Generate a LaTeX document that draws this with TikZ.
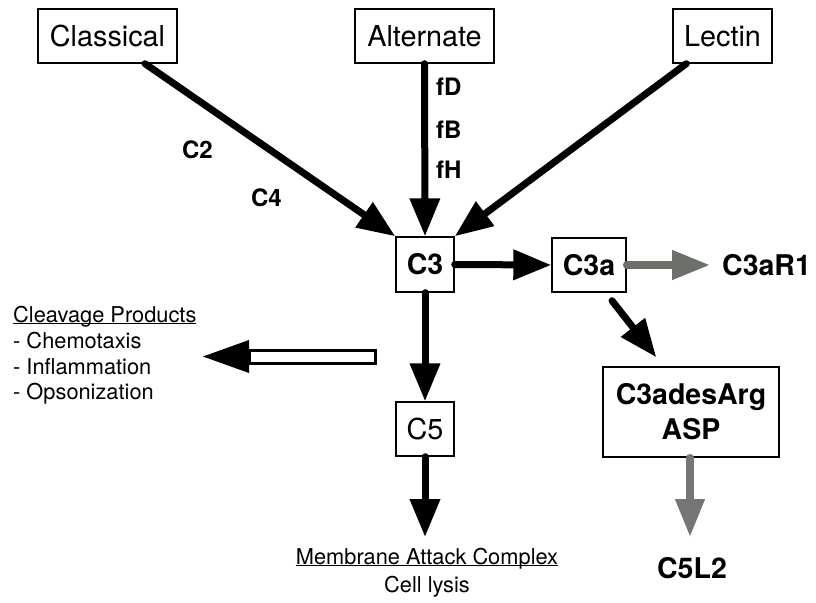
\documentclass[tikz,border=0pt]{standalone}
\usepackage{fontspec}
\setmainfont{TeX Gyre Heros}
\usetikzlibrary{arrows.meta,calc}
\definecolor{greengray}{HTML}{6B7068}
\definecolor{midgray}{HTML}{767676}
\newcommand\myul[1]{\leavevmode\setbox0\hbox{#1}\rlap{\rule[-2.4pt]{\wd0}{1.2pt}}\box0}
\begin{document}
\begin{tikzpicture}[x=1pt,y=-1pt,
  box/.style={draw, line width=1.4pt, inner sep=0pt, font=\fontsize{28.8}{34}\selectfont},
  bbox/.style={box, font=\fontsize{28.5}{35}\selectfont\bfseries},
  lab/.style={inner sep=0pt, font=\fontsize{24}{28}\selectfont\bfseries},
  small/.style={inner sep=0pt, font=\fontsize{21.8}{25.5}\selectfont},
  big/.style={inner sep=0pt, font=\fontsize{28.5}{34}\selectfont\bfseries},
  flow/.style={line width=7pt, line cap=round, -{Triangle[length=38pt,width=29pt]}},
  gflow/.style={line width=7.5pt, line cap=round, draw=#1, -{Triangle[length=38pt,width=28pt,color=#1]}},
]
\fill[white] (0,0) rectangle (816,602);
\useasboundingbox (0,0) rectangle (816,602);

% boxes
\node[box, minimum width=139pt, minimum height=54pt] (cl) at (107.5,36) {Classical};
\node[box, minimum width=139pt, minimum height=54pt] (alt) at (424.5,36) {Alternate};
\node[box, minimum width=99pt, minimum height=54pt] (lec) at (722.5,36) {Lectin};
\node[bbox, minimum width=58pt, minimum height=55pt] (c3) at (425,264.5) {C3};
\node[bbox, minimum width=74pt, minimum height=54pt] (c3a) at (589,265) {C3a};
\node[box, minimum width=58pt, minimum height=54pt] (c5) at (425,429) {C5};
\node[bbox, minimum width=176pt, minimum height=90pt, align=center] (asp) at (691,412) {C3adesArg\\ASP};

% free labels
\node[big, anchor=west] (r1) at (722,265) {C3aR1};
\node[big] (c5l2) at (692,568) {C5L2};
\node[lab] (c2) at (197.5,150) {C2};
\node[lab] (c4) at (266.5,198) {C4};
\node[lab, anchor=west] (fd) at (436,87) {fD};
\node[lab, anchor=west] (fb) at (436,130) {fB};
\node[lab, anchor=west] (fh) at (436,170) {fH};

\node[small, anchor=base] (mac) at (427,564) {\myul{Membrane Attack Complex}};
\node[small, anchor=base] (lysis) at (427,592) {Cell lysis};

\node[small, anchor=base west] (cp0) at (13,322) {\myul{Cleavage Products}};
\node[small, anchor=base west] (cp1) at (13,348) {- Chemotaxis};
\node[small, anchor=base west] (cp2) at (13,374) {- Inflammation};
\node[small, anchor=base west] (cp3) at (13,399.5) {- Opsonization};

% free ends
\coordinate (clst) at ($(cl.south)+(37.5,0)$);
\coordinate (lecst) at ($(lec.south west)+(14,0)$);
\coordinate (c5end) at (425,537);
\coordinate (c3ast) at ($(c3a.south)+(23,8)$);
\coordinate (aspend) at ($(asp.north west)+(54,-9)$);
\coordinate (r1end) at ($(r1.west)+(-12,0)$);
\coordinate (c5l2end) at (690,537);
\coordinate (holtip) at (203,356.5);
\coordinate (holend) at (375,357.5);

% connectors
\draw[flow] (clst) -- (c3.north west);
\draw[flow] (alt.south) -- (c3.north);
\draw[flow] (lecst) -- (c3.north east);
\draw[flow] (c3.east) -- (c3a.west);
\draw[flow] (c3.south) -- (c5.north);
\draw[flow] (c5.south) -- (c5end);
\draw[flow] (c3ast) -- (aspend);
\draw[gflow=greengray] (c3a.east) -- (r1end);
\draw[gflow=midgray] ($(asp.south)+(-1,0)$) -- (c5l2end);

% hollow arrow
\fill (holtip) -- ($(holtip)+(46,-16.5)$) -- ($(holtip)+(46,16.5)$) -- cycle;
\draw[line width=3pt, fill=white] ($(holtip)+(46,-6)$) rectangle ($(holend)+(0,6)$);
\end{tikzpicture}
\end{document}
